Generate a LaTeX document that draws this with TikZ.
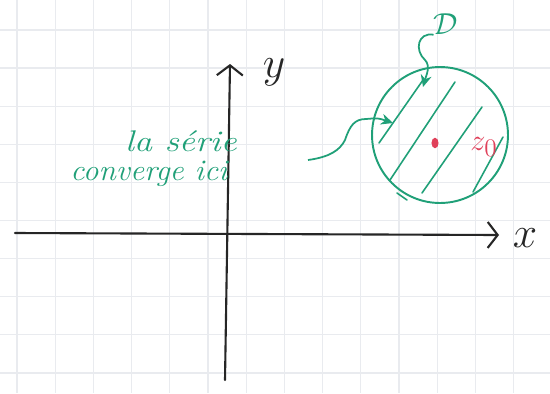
\documentclass[tikz,border=0pt]{standalone}
\usepackage{amsmath,amssymb}
\usepackage{graphicx}
\usepackage{tikz}
\usetikzlibrary{arrows.meta,shapes.geometric}
\definecolor{inkgreen}{HTML}{20A078}
\definecolor{inkred}{HTML}{E0405A}
\definecolor{gridgray}{HTML}{E9EBEF}

\begin{document}
\begin{tikzpicture}[x=0.02cm, y=-0.02cm,
    gridline/.style={line width=0.7pt, color=gridgray},
    axis/.style={-{Straight Barb[length=2mm, width=5.2mm, line width=1.2pt]}, line width=1.2pt, color=black!85, line cap=round},
    hatch/.style={line width=0.9pt, color=inkgreen, line cap=round},
    squiggle/.style={-{Stealth[length=2.4mm, width=2.2mm]}, line width=1pt, color=inkgreen},
    handtext/.style={font=\fontsize{17}{19}\selectfont\itshape, color=inkgreen, inner sep=0pt},
    axlabel/.style={font=\fontsize{25}{27}\selectfont, color=black!85, inner sep=0pt},
]
\fill[white] (0,0) rectangle (550,393);
\useasboundingbox (0,0) rectangle (550,393);
\foreach \i in {0,...,14} \draw[gridline] (17+38.2*\i,0) -- (17+38.2*\i,393);
\foreach \j in {0,...,9} \draw[gridline] (0,30+38.1*\j) -- (550,30+38.1*\j);

\coordinate (xstart) at (15,233);
\coordinate (xend) at (499,235);
\coordinate (ybot) at (225,380);
\coordinate (ytop) at (230,64);
\draw[axis] (xstart) -- (xend);
\draw[axis] (ybot) -- (ytop);
\node[axlabel] (xlab) at (525,238) {$x$};
\node[axlabel] (ylab) at (274,72) {$y$};

\node[circle, draw=inkgreen, line width=1.1pt, minimum size=2.72cm, inner sep=0pt] (disc) at (440,135) {};
\draw[hatch] (379,143) -- (423,80);
\draw[hatch] (390,180) -- (455,82);
\draw[hatch] (422,193) -- (482,107);
\draw[hatch] (473,192) -- (503,137);
\draw[hatch] (397,193) -- (407,200);

\node[ellipse, fill=inkred, minimum width=4pt, minimum height=6pt, inner sep=0pt] (zzero) at (435,143) {};
\node[font=\fontsize{19}{21}\selectfont, color=inkred, inner sep=0pt] (zlab) at (484,147) {$z_0$};
\node[font=\fontsize{17}{19}\selectfont, color=inkgreen, inner sep=0pt] (dlab) at (446,24) {$\mathcal{D}$};

\node[handtext] (serie) at (181,141) {\scalebox{1.2}[1]{la série}};
\node[handtext] (conv) at (149,174) {\scalebox{1.05}[1]{converge ici}};

\coordinate (dtip) at (423,87);
\coordinate (tailstart) at (308,160);
\coordinate (tailtip) at (393,123);
\draw[squiggle] (dlab.south west) .. controls (418,32) and (414,50) .. (425,60) .. controls (431,66) and (426,76) .. (dtip);
\draw[squiggle] (tailstart) .. controls (330,157) and (340,150) .. (345,140) .. controls (350,125) and (355,119) .. (366,119) .. controls (378,118) .. (tailtip);
\end{tikzpicture}
\end{document}
